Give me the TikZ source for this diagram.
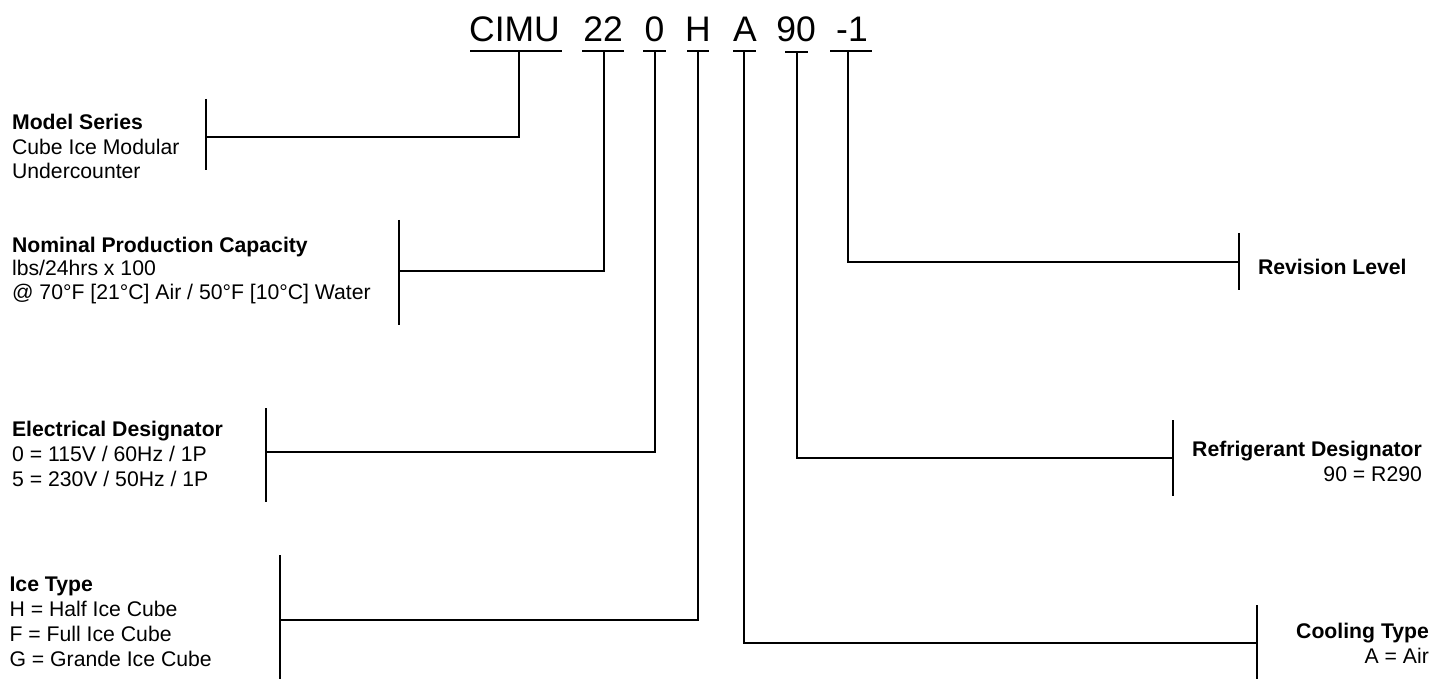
\documentclass[tikz,border=0pt]{standalone}
\usepackage{fontspec}
\setmainfont{Liberation Sans}
\begin{document}
\begin{tikzpicture}[x=1pt,y=-1pt,line width=2.2pt,
  lbl/.style={font=\fontsize{21.2}{25}\selectfont,inner sep=0pt,anchor=base west},
  lblb/.style={lbl,font=\fontsize{21.2}{25}\selectfont\bfseries},
  rlbl/.style={lbl,anchor=base east},
  rlblb/.style={lblb,anchor=base east},
  ttl/.style={font=\fontsize{35.5}{40}\selectfont,inner sep=0pt,anchor=base},
  wire/.style={line width=2.2pt}]
\useasboundingbox (0,0) rectangle (1446,679);

% ---- title parts ----
\node[ttl] (tCIMU) at (514.5,42) {CIMU};
\node[ttl] (t22) at (603,42) {22};
\node[ttl] (t0) at (654.5,42) {0};
\node[ttl] (tH) at (698,42) {H};
\node[ttl] (tA) at (745,42) {A};
\node[ttl] (t90) at (796,42) {90};
\node[ttl] (tR) at (852,42) {-1};

% underlines
\coordinate (u1a) at (470,51); \coordinate (u1b) at (562,51); \coordinate (u1m) at (519,51);
\coordinate (u2a) at (582,51); \coordinate (u2b) at (624,51); \coordinate (u2m) at (604,51);
\coordinate (u3a) at (643,51); \coordinate (u3b) at (666,51); \coordinate (u3m) at (655,51);
\coordinate (u4a) at (687,51); \coordinate (u4b) at (709,51); \coordinate (u4m) at (698,51);
\coordinate (u5a) at (733,51); \coordinate (u5b) at (756,51); \coordinate (u5m) at (744,51);
\coordinate (u6a) at (785,52); \coordinate (u6b) at (808,52); \coordinate (u6m) at (797,52);
\coordinate (u7a) at (830,51); \coordinate (u7b) at (872,51); \coordinate (u7m) at (848,51);
\foreach \i in {1,...,7} {\draw[wire] (u\i a) -- (u\i b);}

% ---- bracket bars ----
\coordinate (b1t) at (206,99);   \coordinate (b1b) at (206,170);  \coordinate (b1m) at (206,137);
\coordinate (b2t) at (399,220);  \coordinate (b2b) at (399,325);  \coordinate (b2m) at (399,271);
\coordinate (b3t) at (266,408);  \coordinate (b3b) at (266,502);  \coordinate (b3m) at (266,452);
\coordinate (b4t) at (280,555);  \coordinate (b4b) at (280,679);  \coordinate (b4m) at (280,620);
\coordinate (b5t) at (1257,605); \coordinate (b5b) at (1257,679); \coordinate (b5m) at (1257,643);
\coordinate (b6t) at (1173,420); \coordinate (b6b) at (1173,496); \coordinate (b6m) at (1173,458);
\coordinate (b7t) at (1239,233); \coordinate (b7b) at (1239,290); \coordinate (b7m) at (1239,262);
\foreach \i in {1,...,7} {\draw[wire] (b\i t) -- (b\i b);}

% ---- connectors ----
\foreach \i in {1,...,7} {\draw[wire] (u\i m) |- (b\i m);}

% ---- labels ----
\node[lblb] (ms1) at (11,130) {Model Series};
\node[lbl]  (ms2) at (11,154.5) {Cube Ice Modular};
\node[lbl]  (ms3) at (11,179) {Undercounter};

\node[lblb] (np1) at (11,252) {Nominal Production Capacity};
\node[lbl]  (np2) at (11,276) {lbs/24hrs x 100};
\node[lbl]  (np3) at (11,299.5) {@ 70°F [21°C] Air / 50°F [10°C] Water};

\node[lblb] (ed1) at (11,436.5) {Electrical Designator};
\node[lbl]  (ed2) at (11,461.5) {0 = 115V / 60Hz / 1P};
\node[lbl]  (ed3) at (11,486.5) {5 = 230V / 50Hz / 1P};

\node[lblb] (it1) at (8.5,591) {Ice Type};
\node[lbl]  (it2) at (8.5,616) {H = Half Ice Cube};
\node[lbl]  (it3) at (8.5,641) {F = Full Ice Cube};
\node[lbl]  (it4) at (8.5,666) {G = Grande Ice Cube};

\node[lblb] (rv1) at (1257,274) {Revision Level};

\node[rlblb] (rd1) at (1423,456) {Refrigerant Designator};
\node[rlbl]  (rd2) at (1423,481) {90 = R290};

\node[rlblb] (ct1) at (1430,638) {Cooling Type};
\node[rlbl]  (ct2) at (1430,663) {A = Air};
\end{tikzpicture}
\end{document}
